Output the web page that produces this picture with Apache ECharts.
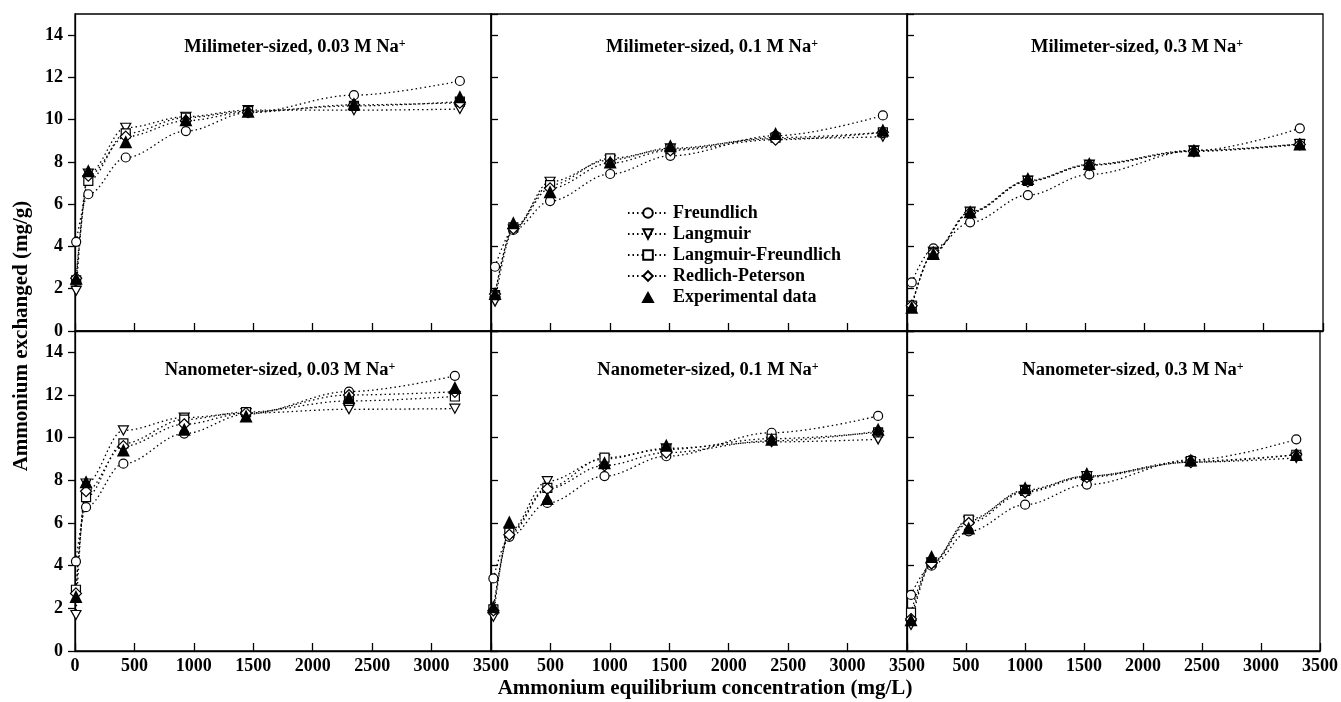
<!DOCTYPE html>
<html>
<head>
  <meta charset="utf-8" />
  <title>Ammonium exchange isotherms</title>
  <script src="https://cdn.jsdelivr.net/npm/echarts@6/dist/echarts.min.js"></script>
  <style>
    html, body { margin: 0; padding: 0; background: #fff; }
    #chart { width: 1341px; height: 702px; }
  </style>
</head>
<body>
  <div id="chart"></div>

  <script type="text/javascript">
    "use strict"

    // 毫米级 / 纳米级, 三种 Na+ 浓度
    const panelTitles = [
      "Milimeter-sized, 0.03 M Na", "Milimeter-sized, 0.1 M Na", "Milimeter-sized, 0.3 M Na",
      "Nanometer-sized, 0.03 M Na", "Nanometer-sized, 0.1 M Na", "Nanometer-sized, 0.3 M Na"
    ]
    const seriesNames = ["Freundlich", "Langmuir", "Langmuir-Freundlich", "Redlich-Peterson", "Experimental data"]
    const xTicks = [0, 500, 1000, 1500, 2000, 2500, 3000, 3500]
    const yTicks = [0, 2, 4, 6, 8, 10, 12, 14]

    // Milimeter-sized, 0.03 M
    const xMm003 = [10, 112, 427, 933, 1456, 2347, 3238]
    const fMm003 = [4.22, 6.47, 8.21, 9.46, 10.33, 11.16, 11.83]
    const lMm003 = [1.9, 7.45, 9.62, 10.14, 10.45, 10.45, 10.5]
    const lfMm003 = [2.4, 7.1, 9.35, 10.1, 10.4, 10.65, 10.85]
    const rpMm003 = [2.5, 7.35, 9.2, 9.95, 10.35, 10.7, 10.8]
    const expMm003 = [2.5, 7.58, 8.95, 10.0, 10.4, 10.75, 11.08]

    // Milimeter-sized, 0.1 M
    const xMm01 = [34, 188, 497, 1003, 1509, 2394, 3297]
    const fMm01 = [3.04, 4.78, 6.15, 7.43, 8.29, 9.24, 10.2]
    const lMm01 = [1.39, 4.8, 7.06, 8.1, 8.65, 9.1, 9.19]
    const lfMm01 = [1.7, 4.9, 6.9, 8.17, 8.6, 9.15, 9.4]
    const rpMm01 = [1.75, 4.85, 6.75, 7.95, 8.55, 9.05, 9.4]
    const expMm01 = [1.78, 5.12, 6.59, 8.0, 8.77, 9.35, 9.51]

    // Milimeter-sized, 0.3 M
    const xMm03 = [40, 222, 531, 1017, 1534, 2414, 3305]
    const fMm03 = [2.3, 3.91, 5.14, 6.43, 7.41, 8.53, 9.59]
    const lMm03 = [1.15, 3.75, 5.65, 7.12, 7.88, 8.55, 8.85]
    const lfMm03 = [1.2, 3.7, 5.62, 7.1, 7.85, 8.52, 8.85]
    const rpMm03 = [1.2, 3.72, 5.6, 7.08, 7.85, 8.5, 8.83]
    const expMm03 = [1.12, 3.67, 5.64, 7.22, 7.93, 8.55, 8.85]

    // Nanometer-sized, 0.03 M
    const xNm003 = [8, 93, 407, 919, 1439, 2305, 3196]
    const fNm003 = [4.2, 6.74, 8.78, 10.19, 11.1, 12.16, 12.9]
    const lNm003 = [1.69, 7.85, 10.34, 10.94, 11.15, 11.33, 11.36]
    const lfNm003 = [2.87, 7.21, 9.73, 10.85, 11.2, 11.72, 11.93]
    const rpNm003 = [2.7, 7.49, 9.6, 10.63, 11.15, 12.0, 12.15]
    const expNm003 = [2.55, 7.93, 9.42, 10.39, 11.02, 11.88, 12.35]

    // Nanometer-sized, 0.1 M
    const xNm01 = [20, 154, 474, 955, 1475, 2361, 3257]
    const fNm01 = [3.4, 5.35, 6.94, 8.2, 9.13, 10.23, 11.02]
    const lNm01 = [1.61, 5.6, 7.96, 9.0, 9.5, 9.8, 9.92]
    const lfNm01 = [1.95, 5.55, 7.65, 9.06, 9.45, 9.95, 10.25]
    const rpNm01 = [1.9, 5.45, 7.6, 8.7, 9.3, 9.85, 10.3]
    const expNm01 = [2.08, 6.05, 7.15, 8.82, 9.64, 9.92, 10.39]

    // Nanometer-sized, 0.3 M
    const xNm03 = [34, 208, 523, 1001, 1524, 2405, 3299]
    const fNm03 = [2.63, 4.0, 5.61, 6.86, 7.8, 8.95, 9.92]
    const lNm03 = [1.22, 4.15, 6.1, 7.55, 8.2, 8.85, 9.05]
    const lfNm03 = [1.8, 4.15, 6.16, 7.5, 8.2, 8.9, 9.2]
    const rpNm03 = [1.5, 4.1, 6.0, 7.45, 8.15, 8.85, 9.2]
    const expNm03 = [1.46, 4.43, 5.77, 7.65, 8.32, 8.95, 9.21]

    const panels = [
      [xMm003, fMm003, lMm003, lfMm003, rpMm003, expMm003],
      [xMm01, fMm01, lMm01, lfMm01, rpMm01, expMm01],
      [xMm03, fMm03, lMm03, lfMm03, rpMm03, expMm03],
      [xNm003, fNm003, lNm003, lfNm003, rpNm003, expNm003],
      [xNm01, fNm01, lNm01, lfNm01, rpNm01, expNm01],
      [xNm03, fNm03, lNm03, lfNm03, rpNm03, expNm03]
    ]

    const FONT = "'Liberation Serif', 'Times New Roman', serif"
    const gridLefts = [75, 491, 907]
    const gridWidth = 416
    const gridTops = [14, 331]
    const gridHeights = [317, 320]
    const titlePos = [[295, 47], [712, 47], [1137, 47], [280, 370], [708, 370], [1133, 370]]

    const modelSymbols = [
      { symbol: "circle", size: 9 },
      { symbol: "path://M0,0L10,0L5,9Z", size: [10, 9] },
      { symbol: "rect", size: 9 },
      { symbol: "diamond", size: 11 }
    ]

    let grids = []
    let xAxes = []
    let yAxes = []
    let series = []
    let graphics = []

    for (let p = 0; p < 6; p++) {
      let row = Math.floor(p / 3)
      let col = p % 3
      grids.push({
        left: gridLefts[col],
        top: gridTops[row],
        width: gridWidth,
        height: gridHeights[row],
        show: true,
        borderColor: "#000",
        borderWidth: 1.3,
        backgroundColor: "transparent"
      })
      xAxes.push({
        gridIndex: p,
        type: "value",
        min: xTicks[0],
        max: xTicks[xTicks.length - 1],
        interval: 500,
        splitLine: { show: false },
        axisLine: { lineStyle: { color: "#000", width: 1.3 } },
        axisTick: { inside: true, length: 8, lineStyle: { color: "#000", width: 1.3 } },
        axisLabel: {
          show: row === 1,
          showMinLabel: col === 0,
          margin: 6,
          color: "#000",
          fontFamily: FONT,
          fontWeight: "bold",
          fontSize: 18,
          formatter: function (v) { return String(v) }
        }
      })
      yAxes.push({
        gridIndex: p,
        type: "value",
        min: yTicks[0],
        max: 15,
        interval: 2,
        splitLine: { show: false },
        axisLine: { lineStyle: { color: "#000", width: 1.3 } },
        axisTick: { inside: col !== 0, length: 7, lineStyle: { color: "#000", width: 1.3 } },
        axisLabel: {
          show: col === 0,
          showMaxLabel: false,
          margin: 12,
          color: "#000",
          fontFamily: FONT,
          fontWeight: "bold",
          fontSize: 18,
          formatter: function (v) { return String(v) }
        }
      })

      let d = panels[p]
      let xs = d[0]
      for (let s = 0; s < 4; s++) {
        series.push({
          name: seriesNames[s],
          type: "line",
          xAxisIndex: p,
          yAxisIndex: p,
          data: xs.map((x, i) => [x, d[s + 1][i]]),
          smooth: 0.35,
          smoothMonotone: "x",
          symbol: modelSymbols[s].symbol,
          symbolSize: modelSymbols[s].size,
          showAllSymbol: true,
          lineStyle: { color: "#000", width: 1.3, type: [1.5, 3] },
          itemStyle: { color: "#fff", borderColor: "#000", borderWidth: 1.2 },
          z: 2
        })
      }
      series.push({
        name: seriesNames[4],
        type: "scatter",
        xAxisIndex: p,
        yAxisIndex: p,
        data: xs.map((x, i) => [x, d[5][i]]),
        symbol: "triangle",
        symbolSize: 13,
        itemStyle: { color: "#000", opacity: 1 },
        z: 3
      })

      graphics.push({
        type: "text",
        x: titlePos[p][0],
        y: titlePos[p][1],
        style: {
          text: "{n|" + panelTitles[p] + "}{s|+}",
          align: "center",
          verticalAlign: "middle",
          rich: {
            n: { fontFamily: FONT, fontWeight: "bold", fontSize: 18.5, fill: "#000" },
            s: { fontFamily: FONT, fontWeight: "bold", fontSize: 12, fill: "#000", verticalAlign: "top" }
          }
        }
      })
    }

    graphics.push({
      type: "text",
      x: 22,
      y: 336,
      rotation: Math.PI / 2,
      style: {
        text: "Ammonium exchanged (mg/g)",
        align: "center",
        verticalAlign: "middle",
        font: "bold 21px " + FONT,
        fill: "#000"
      }
    })
    graphics.push({
      type: "text",
      x: 705,
      y: 689,
      style: {
        text: "Ammonium equilibrium concentration (mg/L)",
        align: "center",
        verticalAlign: "middle",
        font: "bold 21px " + FONT,
        fill: "#000"
      }
    })

    let legendData = seriesNames.map(function (n, i) {
      return i === 4 ? { name: n, icon: "path://M5,0L10,9L0,9Z", itemStyle: { opacity: 1 } } : { name: n }
    })

    let myChart = echarts.init(document.getElementById("chart"))
    let option = {
      animation: false,
      backgroundColor: "#fff",
      grid: grids,
      xAxis: xAxes,
      yAxis: yAxes,
      legend: {
        data: legendData,
        orient: "vertical",
        left: 622,
        top: 199,
        itemWidth: 40,
        itemHeight: 12,
        itemGap: 3,
        symbolKeepAspect: true,
        textStyle: { fontFamily: FONT, fontWeight: "bold", fontSize: 18, color: "#000", lineHeight: 18 }
      },
      graphic: graphics,
      series: series
    }
    myChart.setOption(option, true)
  </script>
</body>
</html>
